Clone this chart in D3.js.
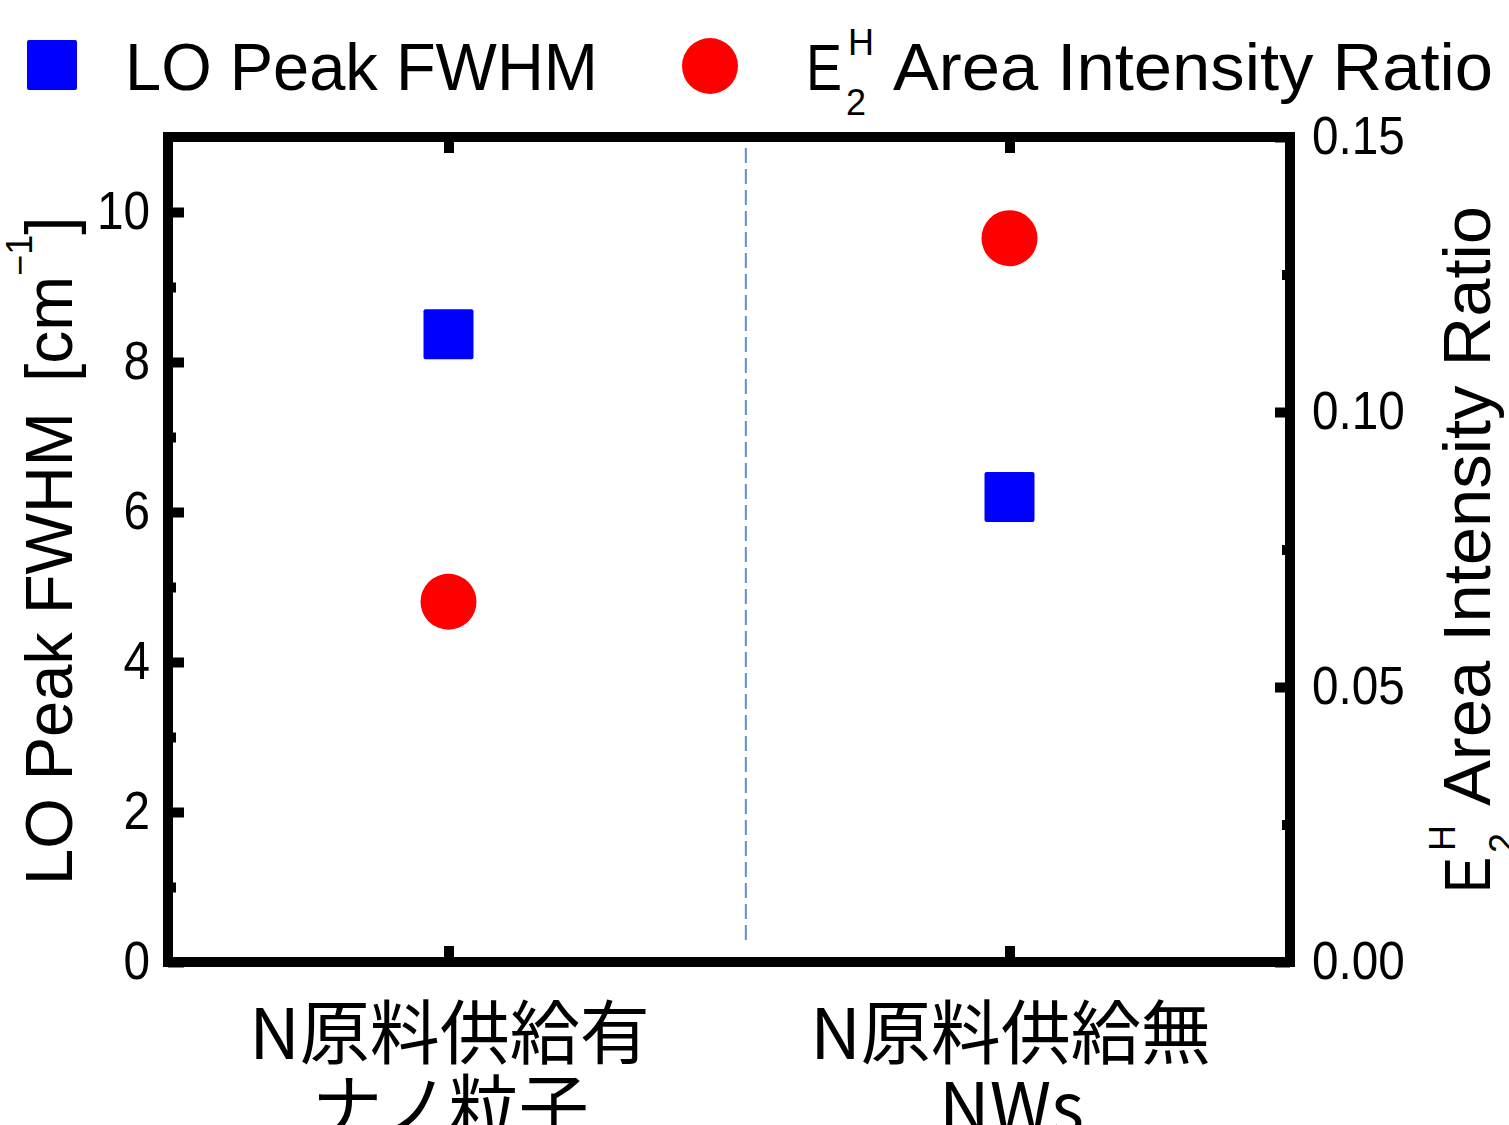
<!DOCTYPE html>
<html>
<head>
<meta charset="utf-8">
<script src="https://cdn.jsdelivr.net/npm/d3@7"></script>
<style>
  html, body { margin: 0; padding: 0; background: #fff; }
  svg { display: block; }
  text { font-family: "Liberation Sans", Arial, sans-serif; fill: #000; }
  .cat { font-family: "Noto Sans CJK JP", "Noto Sans", sans-serif; }
</style>
</head>
<body>
<svg id="chart" width="1509" height="1125"></svg>
<script>
// Samples (two growth conditions)
const catLine1 = ["N原料供給有", "N原料供給無"];
const catLine2 = ["ナノ粒子", "NWs"];
// LO phonon peak full width at half maximum [cm^-1]
const loFwhm = [8.37, 6.2];
// E2(high) mode area intensity ratio
const e2hRatio = [0.0655, 0.1316];

const leftMajor = [0, 2, 4, 6, 8, 10];
const leftMinor = [1, 3, 5, 7, 9];
const rightMajor = [0.00, 0.05, 0.10, 0.15];
const rightMinor = [0.025, 0.075, 0.125];
const rightTickLabels = ["0.00", "0.05", "0.10", "0.15"];
const dividerAt = 2.06;   // separator between the two samples, on the category scale

const svg = d3.select("#chart");
const L = 168, R = 1290, T = 137, B = 962;

const x = d3.scaleLinear().domain([0, 4]).range([L, R]);
const catX = i => x(2 * i + 1);
const yL = d3.scaleLinear().domain([0, 11]).range([B, T]);
const yR = d3.scaleLinear().domain([0, 0.15]).range([B, T]);

const blue = "#0000ff", red = "#ff0000";

// separator
svg.append("line")
  .attr("x1", x(dividerAt)).attr("x2", x(dividerAt))
  .attr("y1", T + 11).attr("y2", B - 16)
  .attr("stroke", "#5b8fd6").attr("stroke-width", 2)
  .attr("stroke-dasharray", "15,6");

// left axis
const gL = svg.append("g").attr("transform", `translate(${L},0)`);
gL.call(d3.axisLeft(yL).tickValues(leftMajor).tickSize(-16).tickPadding(0).tickFormat(d3.format("d")));
gL.append("g").call(d3.axisLeft(yL).tickValues(leftMinor).tickSize(-8).tickFormat(""));
gL.selectAll(".domain").remove();
gL.selectAll(".tick line").attr("stroke", "#000").attr("stroke-width", 10);
gL.selectAll(".tick text")
  .attr("x", 0)
  .attr("transform", "translate(-18,0) scale(0.9,1)")
  .style("font-size", "53px");

// right axis
const gR = svg.append("g").attr("transform", `translate(${R},0)`);
gR.call(d3.axisRight(yR).tickValues(rightMajor).tickSize(-15).tickPadding(0)
  .tickFormat((d, i) => rightTickLabels[i]));
gR.append("g").call(d3.axisRight(yR).tickValues(rightMinor).tickSize(-8).tickFormat(""));
gR.selectAll(".domain").remove();
gR.selectAll(".tick line").attr("stroke", "#000").attr("stroke-width", 10);
gR.selectAll(".tick text")
  .attr("x", 0)
  .attr("transform", "translate(22,0) scale(0.9,1)")
  .style("font-size", "53px");

// top and bottom ticks at the sample positions
const gB = svg.append("g").attr("transform", `translate(0,${B})`);
gB.call(d3.axisBottom(x).tickValues([1, 3]).tickSize(-16).tickFormat(""));
const gT = svg.append("g").attr("transform", `translate(0,${T})`);
gT.call(d3.axisTop(x).tickValues([1, 3]).tickSize(-16).tickFormat(""));
[gB, gT].forEach(g => {
  g.selectAll(".domain").remove();
  g.selectAll(".tick line").attr("stroke", "#000").attr("stroke-width", 10);
});

// frame
svg.append("rect")
  .attr("x", L).attr("y", T).attr("width", R - L).attr("height", B - T)
  .attr("fill", "none").attr("stroke", "#000").attr("stroke-width", 10);

// markers
const sq = 50, rad = 28;
svg.append("g").selectAll("rect").data(loFwhm).join("rect")
  .attr("x", (d, i) => catX(i) - sq / 2)
  .attr("y", d => yL(d) - sq / 2)
  .attr("width", sq).attr("height", sq).attr("rx", 2)
  .attr("fill", blue);
svg.append("g").selectAll("circle").data(e2hRatio).join("circle")
  .attr("cx", (d, i) => catX(i))
  .attr("cy", d => yR(d))
  .attr("r", rad)
  .attr("fill", red);

// category labels
const cats = svg.append("g").attr("class", "cat");
cats.selectAll("text.l1").data(catLine1).join("text").attr("class", "cat l1")
  .attr("x", (d, i) => catX(i) + 1).attr("y", 1059)
  .attr("text-anchor", "middle").style("font-size", "70px").text(d => d);
cats.selectAll("text.l2").data(catLine2).join("text").attr("class", "cat l2")
  .attr("x", (d, i) => catX(i) + 2).attr("y", 1133)
  .attr("text-anchor", "middle").style("font-size", "70px").text(d => d);

// E2H label with stacked sub/superscript
function e2hLabel(g) {
  g.append("text").attr("x", 0).attr("y", 0).style("font-size", "64px")
    .attr("textLength", 36).attr("lengthAdjust", "spacingAndGlyphs").text("E");
  g.append("text").attr("x", 42).attr("y", -35).style("font-size", "36px").text("H");
  g.append("text").attr("x", 40).attr("y", 25).style("font-size", "36px").text("2");
  g.append("text").attr("x", 87).attr("y", 0).style("font-size", "66px")
    .attr("textLength", 600).attr("lengthAdjust", "spacingAndGlyphs")
    .text("Area Intensity Ratio");
}

// legend
const leg = svg.append("g");
leg.append("rect").attr("x", 27).attr("y", 40).attr("width", 50).attr("height", 50)
  .attr("rx", 2).attr("fill", blue);
leg.append("text").attr("x", 125).attr("y", 90).style("font-size", "66px")
  .attr("textLength", 473).attr("lengthAdjust", "spacingAndGlyphs").text("LO Peak FWHM");
leg.append("circle").attr("cx", 710).attr("cy", 66).attr("r", rad).attr("fill", red);
e2hLabel(leg.append("g").attr("transform", "translate(806,90)"));

// left axis title
const lt = svg.append("text").attr("transform", "translate(72,885) rotate(-90)")
  .style("font-size", "66px");
lt.append("tspan").attr("textLength", 473).attr("lengthAdjust", "spacingAndGlyphs").text("LO Peak FWHM");
lt.append("tspan").attr("dx", 30).text("[cm");
lt.append("tspan").attr("dy", -40).style("font-size", "36px").text("−1");
lt.append("tspan").attr("dy", 40).text("]");

// right axis title
e2hLabel(svg.append("g").attr("transform", "translate(1490,893) rotate(-90)"));
</script>
</body>
</html>
